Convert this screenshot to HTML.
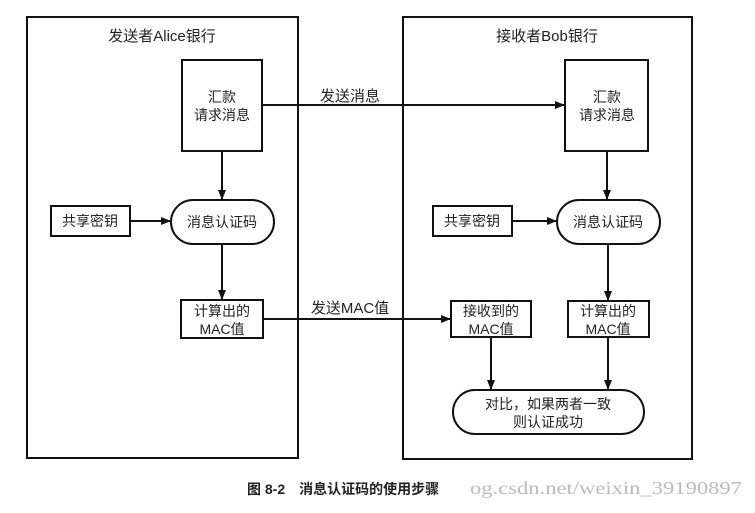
<!DOCTYPE html>
<html><head><meta charset="utf-8"><style>
body{margin:0;background:#fff;width:755px;height:508px;overflow:hidden;font-family:"Liberation Sans","Noto Sans CJK SC",sans-serif}
</style></head><body>
<svg width="755" height="508" xmlns="http://www.w3.org/2000/svg" font-family="Liberation Sans, Noto Sans CJK SC, sans-serif" font-size="14" fill="#222">
<defs><marker id="a" markerWidth="10" markerHeight="8" refX="9" refY="4" orient="auto" markerUnits="userSpaceOnUse"><path d="M0,0 L10,4 L0,8z" fill="#111"/></marker></defs>
<g stroke="#111" stroke-width="2" fill="none">
<rect x="27" y="17" width="271" height="441"/>
<rect x="403" y="17" width="289" height="442"/>
<rect x="182" y="60" width="80" height="91"/>
<rect x="565" y="60" width="83" height="91"/>
<rect x="51" y="206" width="79" height="30"/>
<rect x="433" y="206" width="79" height="30"/>
<rect x="171" y="200" width="103" height="44" rx="22"/>
<rect x="557" y="200" width="103" height="44" rx="22"/>
<rect x="181" y="300" width="82" height="38"/>
<rect x="451" y="301" width="80" height="36"/>
<rect x="568" y="301" width="81" height="36"/>
<rect x="453" y="390" width="191" height="44" rx="22"/>
<line x1="262" y1="105" x2="564" y2="105" marker-end="url(#a)"/>
<line x1="222" y1="151" x2="222" y2="199" marker-end="url(#a)"/>
<line x1="607" y1="151" x2="607" y2="199" marker-end="url(#a)"/>
<line x1="130" y1="221" x2="170" y2="221" marker-end="url(#a)"/>
<line x1="512" y1="221" x2="556" y2="221" marker-end="url(#a)"/>
<line x1="222" y1="244" x2="222" y2="299" marker-end="url(#a)"/>
<line x1="608" y1="244" x2="608" y2="300" marker-end="url(#a)"/>
<line x1="263" y1="319" x2="450" y2="319" marker-end="url(#a)"/>
<line x1="491" y1="337" x2="491" y2="389" marker-end="url(#a)"/>
<line x1="608" y1="337" x2="608" y2="389" marker-end="url(#a)"/>
</g>
<g text-anchor="middle">
<text x="162" y="41" font-size="15">发送者Alice银行</text>
<text x="547" y="41" font-size="15">接收者Bob银行</text>
<text x="222" y="102">汇款</text><text x="222" y="120">请求消息</text>
<text x="607" y="102">汇款</text><text x="607" y="120">请求消息</text>
<text x="350" y="101" font-size="15">发送消息</text>
<text x="90" y="226">共享密钥</text><text x="472" y="226">共享密钥</text>
<text x="222" y="227">消息认证码</text><text x="608" y="227">消息认证码</text>
<text x="222" y="316">计算出的</text><text x="222" y="334">MAC值</text>
<text x="491" y="316">接收到的</text><text x="491" y="334">MAC值</text>
<text x="608" y="316">计算出的</text><text x="608" y="334">MAC值</text>
<text x="350" y="313" font-size="15">发送MAC值</text>
<text x="548" y="409">对比，如果两者一致</text><text x="548" y="427">则认证成功</text>
</g>
<text x="247" y="494" font-size="14" font-weight="bold">图 8-2　消息认证码的使用步骤</text>
<text x="470" y="494" font-size="18" fill="#bbb" font-family="Liberation Serif, serif" textLength="272" lengthAdjust="spacingAndGlyphs">og.csdn.net/weixin_39190897</text>
</svg>
</body></html>
